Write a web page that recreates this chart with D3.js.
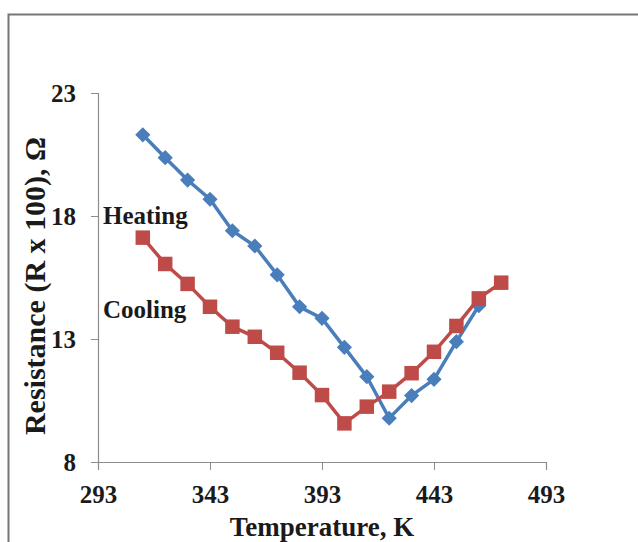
<!DOCTYPE html>
<html>
<head>
<meta charset="utf-8">
<script src="https://cdn.jsdelivr.net/npm/d3@7"></script>
<style>
  body { margin: 0; background: #fff; }
  svg { display: block; }
  text { font-family: "Liberation Serif", "Times New Roman", serif; font-weight: bold; fill: #1a1a1a; }
</style>
</head>
<body>
<svg id="chart" width="638" height="542"></svg>
<script>
// данные
const heatT = [313, 323, 333, 343, 353, 363, 373, 383, 393, 403, 413, 423, 433, 443, 453, 463];
const heatR = [21.3, 20.37, 19.46, 18.68, 17.4, 16.78, 15.61, 14.31, 13.84, 12.66, 11.47, 9.78, 10.7, 11.36, 12.89, 14.35];
const coolT = [313, 323, 333, 343, 353, 363, 373, 383, 393, 403, 413, 423, 433, 443, 453, 463, 473];
const coolR = [17.12, 16.05, 15.24, 14.31, 13.5, 13.09, 12.44, 11.63, 10.72, 9.57, 10.25, 10.86, 11.61, 12.48, 13.53, 14.65, 15.29];
const xTicks = [293, 343, 393, 443, 493];
const yTicks = [8, 13, 18, 23];

const svg = d3.select("#chart");

// рамка вокруг графика
svg.append("rect")
    .attr("x", 8.5).attr("y", 14.5)
    .attr("width", 660).attr("height", 560)
    .attr("fill", "none")
    .attr("stroke", "#777")
    .attr("stroke-width", 2);

const margin = {left: 98, top: 93, right: 92, bottom: 80};
const width = 638 - margin.left - margin.right;   // 448
const height = 542 - margin.top - margin.bottom;  // 369

const chart = svg.append("g")
    .attr("transform", `translate(${margin.left},${margin.top})`);

const scaleX = d3.scaleLinear().domain([293, 493]).range([0, width]);
const scaleY = d3.scaleLinear().domain([8, 23]).range([height, 0]);

// оси
const axX = chart.append("g")
    .attr("transform", `translate(0,${height})`)
    .call(d3.axisBottom(scaleX).tickValues(xTicks).tickSize(8).tickPadding(15));
const axY = chart.append("g")
    .call(d3.axisLeft(scaleY).tickValues(yTicks).tickSize(7).tickPadding(15));

[axX, axY].forEach(ax => {
    ax.select(".domain").attr("stroke", "#8c8c8c").attr("stroke-width", 1.2);
    ax.selectAll(".tick line").attr("stroke", "#8c8c8c");
    ax.selectAll("text")
        .attr("fill", "#1a1a1a")
        .style("font-family", '"Liberation Serif", serif')
        .style("font-weight", "bold")
        .style("font-size", "25px");
});

// линии
const heat = heatT.map((t, i) => ({t, r: heatR[i]}));
const cool = coolT.map((t, i) => ({t, r: coolR[i]}));
const line = d3.line().x(d => scaleX(d.t)).y(d => scaleY(d.r));

chart.append("path").datum(heat)
    .attr("fill", "none").attr("stroke", "#4a7ebb").attr("stroke-width", 3.5)
    .attr("d", line);
chart.selectAll(".dia").data(heat).enter().append("path")
    .attr("class", "dia")
    .attr("transform", d => `translate(${scaleX(d.t)},${scaleY(d.r)}) rotate(45)`)
    .attr("d", d3.symbol().type(d3.symbolSquare).size(115))
    .attr("fill", "#4a7ebb");

chart.append("path").datum(cool)
    .attr("fill", "none").attr("stroke", "#be4b48").attr("stroke-width", 3.5)
    .attr("d", line);
chart.selectAll(".sq").data(cool).enter().append("path")
    .attr("class", "sq")
    .attr("transform", d => `translate(${scaleX(d.t)},${scaleY(d.r)})`)
    .attr("d", d3.symbol().type(d3.symbolSquare).size(210))
    .attr("fill", "#be4b48");

// подписи серий
svg.append("text").attr("x", 103).attr("y", 224)
    .style("font-size", "25px").text("Heating");
svg.append("text").attr("x", 103).attr("y", 318)
    .style("font-size", "25px").text("Cooling");

// подписи осей
svg.append("text")
    .attr("x", 322).attr("y", 536)
    .attr("text-anchor", "middle")
    .style("font-size", "27px")
    .text("Temperature, K");
svg.append("text")
    .attr("transform", "translate(45,286) rotate(-90)")
    .attr("text-anchor", "middle")
    .style("font-size", "30px")
    .text("Resistance (R x 100), Ω");
</script>
</body>
</html>
